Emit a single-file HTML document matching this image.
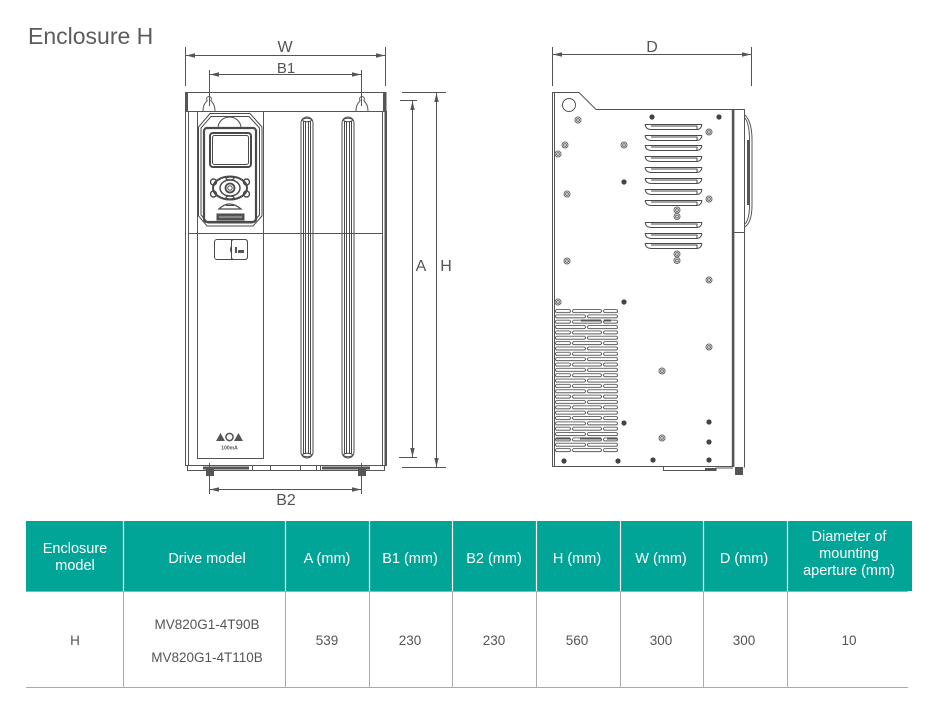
<!DOCTYPE html>
<html><head><meta charset="utf-8">
<style>
html,body{margin:0;padding:0;background:#fff;}
svg{display:block;}
text{font-family:"Liberation Sans",sans-serif;}
</style></head>
<body>
<svg width="937" height="703" viewBox="0 0 937 703" xmlns="http://www.w3.org/2000/svg">
<defs>
<pattern id="vent" patternUnits="userSpaceOnUse" x="554" y="308.5" width="66" height="10.7">
 <g fill="none" stroke="#555" stroke-width="0.9">
  <rect x="1.5" y="1" width="15" height="3" rx="1.5"/>
  <rect x="18.5" y="1" width="29" height="3" rx="1.5"/>
  <rect x="49.5" y="1" width="14" height="3" rx="1.5"/>
  <rect x="1.5" y="6.35" width="30" height="3" rx="1.5"/>
  <rect x="33.5" y="6.35" width="30" height="3" rx="1.5"/>
 </g>
</pattern>
</defs>
<rect width="937" height="703" fill="#fff"/>

<text x="28" y="44" font-size="23" fill="#5c5c5c">Enclosure H</text>

<!-- ============ FRONT VIEW ============ -->
<g stroke="#555" stroke-width="1" fill="none">
 <line x1="185.5" y1="47" x2="185.5" y2="86"/>
 <line x1="385.5" y1="47" x2="385.5" y2="86"/>
 <line x1="186" y1="55.5" x2="385" y2="55.5"/>
 <line x1="209.5" y1="70" x2="209.5" y2="106"/>
 <line x1="361.5" y1="70" x2="361.5" y2="106"/>
 <line x1="210" y1="74.5" x2="361" y2="74.5"/>
 <line x1="400" y1="100.5" x2="417" y2="100.5"/>
 <line x1="399" y1="457.5" x2="417" y2="457.5"/>
 <line x1="412.5" y1="101" x2="412.5" y2="457"/>
 <line x1="402" y1="92.5" x2="446" y2="92.5"/>
 <line x1="402" y1="467.5" x2="446" y2="467.5"/>
 <line x1="436.5" y1="93" x2="436.5" y2="467"/>
 <line x1="209.5" y1="463" x2="209.5" y2="494"/>
 <line x1="361.5" y1="463" x2="361.5" y2="494"/>
 <line x1="210" y1="489.5" x2="361" y2="489.5"/>
</g>
<g fill="#555">
 <polygon points="186,55.5 195,53.3 195,57.7"/>
 <polygon points="385,55.5 376,53.3 376,57.7"/>
 <polygon points="210,74.5 219,72.3 219,76.7"/>
 <polygon points="361,74.5 352,72.3 352,76.7"/>
 <polygon points="412.5,101 410.3,110 414.7,110"/>
 <polygon points="412.5,457 410.3,448 414.7,448"/>
 <polygon points="436.5,93 434.3,102 438.7,102"/>
 <polygon points="436.5,467 434.3,458 438.7,458"/>
 <polygon points="210,489.5 219,487.3 219,491.7"/>
 <polygon points="361,489.5 352,487.3 352,491.7"/>
</g>
<g fill="#555" font-size="16" text-anchor="middle">
 <text x="285" y="52">W</text>
 <text x="286" y="73" font-size="15">B1</text>
 <text x="286" y="505">B2</text>
 <text x="421" y="271">A</text>
 <text x="446" y="271">H</text>
</g>

<!-- body -->
<g stroke="#555" stroke-width="1" fill="none">
 <line x1="185" y1="92.5" x2="386" y2="92.5"/>
 <line x1="185" y1="111.5" x2="386" y2="111.5"/>
 <line x1="185.5" y1="111" x2="185.5" y2="466"/>
 <line x1="188.5" y1="111" x2="188.5" y2="465"/>
 <line x1="382.5" y1="111" x2="382.5" y2="465"/>
 <line x1="188" y1="233.5" x2="383" y2="233.5"/>
 <line x1="185" y1="465.5" x2="387" y2="465.5"/>
 <line x1="187" y1="470.5" x2="385" y2="470.5"/>
 <line x1="187.5" y1="466" x2="187.5" y2="471"/>
 <line x1="384.5" y1="466" x2="384.5" y2="471"/>
 <line x1="252.5" y1="466" x2="252.5" y2="471"/>
 <line x1="270.5" y1="466" x2="270.5" y2="471"/>
 <line x1="300.5" y1="466" x2="300.5" y2="471"/>
 <line x1="316.5" y1="466" x2="316.5" y2="471"/>
 <line x1="320.5" y1="466" x2="320.5" y2="471"/>
 <line x1="197.5" y1="111" x2="197.5" y2="233"/>
 <line x1="263.5" y1="111" x2="263.5" y2="233"/>
 <rect x="197.5" y="233.5" width="66" height="225"/>
 <path d="M203,111 C203,104 206,102.5 207.2,100.5 A2.4,2.4 0 1 1 210.8,100.5 C212,102.5 215,104 215,111"/>
 <path d="M356,111 C356,104 359,102.5 360.2,100.5 A2.4,2.4 0 1 1 363.8,100.5 C365,102.5 368,104 368,111"/>
</g>
<g fill="#555">
 <rect x="185" y="92" width="3" height="19"/>
 <rect x="383" y="92" width="3.5" height="19"/>
 <rect x="384.5" y="111" width="2.5" height="355"/>
 <rect x="203" y="466.5" width="46" height="3"/>
 <rect x="322" y="466.5" width="48" height="3"/>
 <rect x="206" y="468" width="8" height="8"/>
 <rect x="358" y="468" width="8" height="8"/>
</g>

<!-- slots -->
<g stroke="#4a4a4a" stroke-width="1" fill="none">
 <rect x="301" y="117" width="12" height="341" rx="6"/>
 <line x1="303.5" y1="121" x2="303.5" y2="454"/>
 <line x1="305.5" y1="121" x2="305.5" y2="454"/>
 <line x1="308.5" y1="121" x2="308.5" y2="454"/>
 <line x1="310.5" y1="121" x2="310.5" y2="454"/>
 <ellipse cx="307" cy="120" rx="4.5" ry="1.8"/>
 <ellipse cx="307" cy="455" rx="4.5" ry="1.8"/>
 <rect x="342" y="117" width="12" height="341" rx="6"/>
 <line x1="344.5" y1="121" x2="344.5" y2="454"/>
 <line x1="346.5" y1="121" x2="346.5" y2="454"/>
 <line x1="349.5" y1="121" x2="349.5" y2="454"/>
 <line x1="351.5" y1="121" x2="351.5" y2="454"/>
 <ellipse cx="348" cy="120" rx="4.5" ry="1.8"/>
 <ellipse cx="348" cy="455" rx="4.5" ry="1.8"/>
</g>

<!-- keypad -->
<g stroke="#4a4a4a" stroke-width="1" fill="none">
 <polygon points="210,113.5 250,113.5 262,127 262,216 253,226 207,226 198.5,216 198.5,127"/>
 <polygon points="211,116.5 249,116.5 259.5,128 259.5,215 252,223 208,223 201,215 201,128"/>
 <rect x="204" y="128" width="52" height="94" rx="3" stroke-width="2.2"/>
 <path d="M218,128 A11.5,11 0 0 1 241,128"/>
 <rect x="210" y="133" width="41" height="34" rx="3" stroke-width="2"/>
 <rect x="212.5" y="135.5" width="36" height="29" rx="2"/>
 <ellipse cx="230" cy="188" rx="17" ry="11.5" stroke-width="2"/>
 <ellipse cx="230" cy="188" rx="10" ry="8" stroke-width="1.5"/>
 <circle cx="230" cy="188" r="4.5" stroke-width="1.8"/>
 <circle cx="230" cy="188" r="2.2"/>
 <circle cx="213.5" cy="182" r="3" stroke-width="1.4"/>
 <circle cx="213.5" cy="194" r="3" stroke-width="1.4"/>
 <circle cx="246.5" cy="182" r="3" stroke-width="1.4"/>
 <circle cx="246.5" cy="194" r="3" stroke-width="1.4"/>
 <ellipse cx="230" cy="178.5" rx="4" ry="1.5" stroke-width="1.3"/>
 <ellipse cx="230" cy="197.5" rx="4" ry="1.5" stroke-width="1.3"/>
 <path d="M219,209 Q229,199 241,209 Z" stroke-width="1.3"/>
 <line x1="226" y1="205.5" x2="234" y2="205.5"/>
 <rect x="217" y="214" width="27" height="6" fill="#555"/>
 <line x1="219" y1="217" x2="242" y2="217" stroke="#bbb"/>
 <rect x="214.5" y="239.5" width="33" height="20" rx="2.5"/>
 <path d="M231.5,239.5 L231.5,246 Q229.5,249.5 231.5,253 L231.5,259.5"/>
 <rect x="231.5" y="239.5" width="16" height="20" rx="2.5"/>
</g>
<g fill="#555">
 <rect x="235" y="247" width="2" height="6"/>
 <rect x="238" y="250" width="6" height="3"/>
 <polygon points="216,441 220.5,433 225,441"/>
 <circle cx="229.5" cy="437" r="3.6" fill="none" stroke="#555" stroke-width="1.5"/>
 <polygon points="234,441 238.5,433 243,441"/>
 <text x="229.5" y="449.5" font-size="5" font-weight="bold" text-anchor="middle">100mA</text>
</g>

<!-- ============ SIDE VIEW ============ -->
<g stroke="#555" stroke-width="1" fill="none">
 <line x1="552.5" y1="47" x2="552.5" y2="86"/>
 <line x1="751.5" y1="47" x2="751.5" y2="86"/>
 <line x1="553" y1="54.5" x2="751" y2="54.5"/>
 <path d="M552.5,466.5 L552.5,92.5 L579,92.5 L596,109.5 L744.5,109.5 L744.5,467.5"/>
 <line x1="554.5" y1="93" x2="554.5" y2="466"/>
 <line x1="552" y1="466.5" x2="734" y2="466.5"/>
 <line x1="734" y1="232.5" x2="744" y2="232.5"/>
 <circle cx="569" cy="105" r="6.5"/>
 <path d="M745,115 Q752,122 752,140 L752,205 Q752,222 745,227"/>
 <path d="M745,118 Q749.5,124 749.5,140 L749.5,205 Q749.5,219 745,224"/>
 <path d="M663.5,466 L663.5,470.5 L716,470.5 L716,468 L733,468"/>
</g>
<g fill="#555">
 <polygon points="553,54.5 562,52.3 562,56.7"/>
 <polygon points="751,54.5 742,52.3 742,56.7"/>
 <rect x="731.8" y="109" width="2.6" height="358"/>
 <rect x="735" y="467" width="8" height="8"/>
 <rect x="747" y="140" width="2.5" height="65"/>
 <rect x="705" y="468" width="11" height="2"/>
</g>
<text x="652" y="52" font-size="16" fill="#555" text-anchor="middle">D</text>

<!-- louvers -->
<g stroke="#4a4a4a" stroke-width="1" fill="none">
 <path d="M645,124.5 L702,124.5 M645,124.5 Q646,129.5 651,129.5 L697,129.5 Q701,129.5 702,124.5 M651,126 L697,126 L697,129"/>
 <path d="M645,135.5 L702,135.5 M645,135.5 Q646,140.5 651,140.5 L697,140.5 Q701,140.5 702,135.5 M651,137 L697,137 L697,140"/>
 <path d="M645,145.5 L702,145.5 M645,145.5 Q646,150.5 651,150.5 L697,150.5 Q701,150.5 702,145.5 M651,147 L697,147 L697,150"/>
 <path d="M645,156.5 L702,156.5 M645,156.5 Q646,161.5 651,161.5 L697,161.5 Q701,161.5 702,156.5 M651,158 L697,158 L697,161"/>
 <path d="M645,167.5 L702,167.5 M645,167.5 Q646,172.5 651,172.5 L697,172.5 Q701,172.5 702,167.5 M651,169 L697,169 L697,172"/>
 <path d="M645,178.5 L702,178.5 M645,178.5 Q646,183.5 651,183.5 L697,183.5 Q701,183.5 702,178.5 M651,180 L697,180 L697,183"/>
 <path d="M645,189.5 L702,189.5 M645,189.5 Q646,194.5 651,194.5 L697,194.5 Q701,194.5 702,189.5 M651,191 L697,191 L697,194"/>
 <path d="M645,200.5 L702,200.5 M645,200.5 Q646,205.5 651,205.5 L697,205.5 Q701,205.5 702,200.5 M651,202 L697,202 L697,205"/>
 <path d="M645,222.5 L702,222.5 M645,222.5 Q646,227.5 651,227.5 L697,227.5 Q701,227.5 702,222.5 M651,224 L697,224 L697,227"/>
 <path d="M645,233.5 L702,233.5 M645,233.5 Q646,238.5 651,238.5 L697,238.5 Q701,238.5 702,233.5 M651,235 L697,235 L697,238"/>
 <path d="M645,243.5 L702,243.5 M645,243.5 Q646,248.5 651,248.5 L697,248.5 Q701,248.5 702,243.5 M651,245 L697,245 L697,248"/>
</g>

<rect x="554" y="308.5" width="66" height="144" fill="url(#vent)"/>
<g fill="#555">
 <rect x="581" y="319.5" width="20" height="2"/>
 <rect x="604" y="319.5" width="7" height="2"/>
 <rect x="556" y="437.5" width="14" height="2"/>
 <rect x="580" y="437.5" width="21" height="2"/>
 <rect x="607" y="437.5" width="10" height="2"/>
</g>

<g stroke="#666" stroke-width="1" fill="none">
 <circle cx="578" cy="120" r="3"/><circle cx="578" cy="120" r="1.4"/>
 <circle cx="565" cy="145" r="3"/><circle cx="565" cy="145" r="1.4"/>
 <circle cx="558" cy="154" r="3"/><circle cx="558" cy="154" r="1.4"/>
 <circle cx="624" cy="145" r="3"/><circle cx="624" cy="145" r="1.4"/>
 <circle cx="567" cy="194" r="3"/><circle cx="567" cy="194" r="1.4"/>
 <circle cx="709" cy="132" r="3"/><circle cx="709" cy="132" r="1.4"/>
 <circle cx="709" cy="199" r="3"/><circle cx="709" cy="199" r="1.4"/>
 <circle cx="677" cy="210" r="3"/><circle cx="677" cy="210" r="1.4"/>
 <circle cx="677" cy="216.5" r="3"/><circle cx="677" cy="216.5" r="1.4"/>
 <circle cx="677" cy="254" r="3"/><circle cx="677" cy="254" r="1.4"/>
 <circle cx="677" cy="260.5" r="3"/><circle cx="677" cy="260.5" r="1.4"/>
 <circle cx="567" cy="261" r="3"/><circle cx="567" cy="261" r="1.4"/>
 <circle cx="709" cy="280" r="3"/><circle cx="709" cy="280" r="1.4"/>
 <circle cx="558" cy="302" r="3"/><circle cx="558" cy="302" r="1.4"/>
 <circle cx="709" cy="347" r="3"/><circle cx="709" cy="347" r="1.4"/>
 <circle cx="662" cy="371" r="3"/><circle cx="662" cy="371" r="1.4"/>
 <circle cx="662" cy="438" r="3"/><circle cx="662" cy="438" r="1.4"/>
</g>
<g fill="#444">
 <circle cx="652" cy="117" r="2.6"/>
 <circle cx="719" cy="117" r="2.6"/>
 <circle cx="624" cy="182" r="2.6"/>
 <circle cx="624" cy="302" r="2.6"/>
 <circle cx="624" cy="423" r="2.6"/>
 <circle cx="709" cy="422" r="2.6"/>
 <circle cx="709" cy="442" r="2.6"/>
 <circle cx="564" cy="461" r="2.6"/>
 <circle cx="618" cy="461" r="2.6"/>
 <circle cx="653" cy="460" r="2.6"/>
 <circle cx="709" cy="460" r="2.6"/>
</g>

<!-- ============ TABLE ============ -->
<rect x="26" y="521" width="886" height="70" fill="#00a598"/>
<g stroke="#fff" stroke-width="1.2">
 <line x1="123.5" y1="521" x2="123.5" y2="591"/>
 <line x1="285.5" y1="521" x2="285.5" y2="591"/>
 <line x1="369.5" y1="521" x2="369.5" y2="591"/>
 <line x1="452.5" y1="521" x2="452.5" y2="591"/>
 <line x1="536.5" y1="521" x2="536.5" y2="591"/>
 <line x1="620.5" y1="521" x2="620.5" y2="591"/>
 <line x1="703.5" y1="521" x2="703.5" y2="591"/>
 <line x1="787.5" y1="521" x2="787.5" y2="591"/>
</g>
<g stroke="#aaa" stroke-width="1">
 <line x1="26" y1="591.5" x2="908" y2="591.5"/>
 <line x1="26" y1="687.5" x2="908" y2="687.5"/>
 <line x1="123.5" y1="592" x2="123.5" y2="687"/>
 <line x1="285.5" y1="592" x2="285.5" y2="687"/>
 <line x1="369.5" y1="592" x2="369.5" y2="687"/>
 <line x1="452.5" y1="592" x2="452.5" y2="687"/>
 <line x1="536.5" y1="592" x2="536.5" y2="687"/>
 <line x1="620.5" y1="592" x2="620.5" y2="687"/>
 <line x1="703.5" y1="592" x2="703.5" y2="687"/>
 <line x1="787.5" y1="592" x2="787.5" y2="687"/>
</g>
<g fill="#fff" font-size="14.5" text-anchor="middle">
 <text x="75" y="553">Enclosure</text>
 <text x="75" y="570">model</text>
 <text x="207" y="563">Drive model</text>
 <text x="327" y="563">A (mm)</text>
 <text x="410" y="563">B1 (mm)</text>
 <text x="494" y="563">B2 (mm)</text>
 <text x="577" y="563">H (mm)</text>
 <text x="661" y="563">W (mm)</text>
 <text x="744" y="563">D (mm)</text>
 <text x="849" y="541">Diameter of</text>
 <text x="849" y="558">mounting</text>
 <text x="849" y="575">aperture (mm)</text>
</g>
<g fill="#555" font-size="13.5" text-anchor="middle">
 <text x="75" y="645">H</text>
 <text x="207" y="629">MV820G1-4T90B</text>
 <text x="207" y="662">MV820G1-4T110B</text>
 <text x="327" y="645">539</text>
 <text x="410" y="645">230</text>
 <text x="494" y="645">230</text>
 <text x="577" y="645">560</text>
 <text x="661" y="645">300</text>
 <text x="744" y="645">300</text>
 <text x="849" y="645">10</text>
</g>
</svg>
</body></html>
